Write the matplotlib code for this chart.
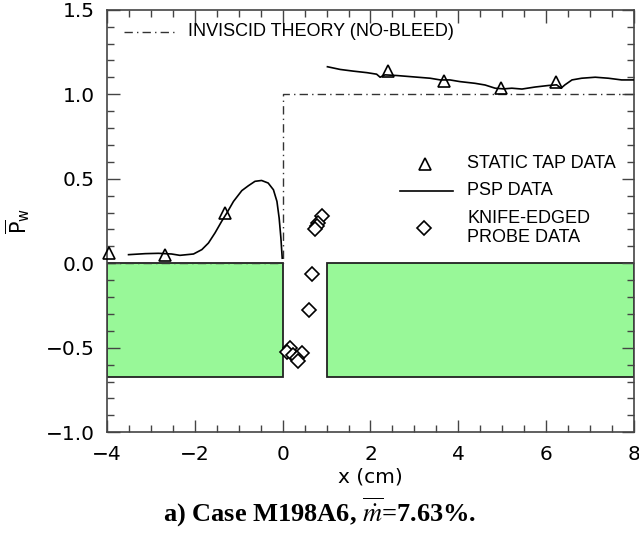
import matplotlib
matplotlib.use("Agg")
import matplotlib.pyplot as plt
from matplotlib.patches import Rectangle
from matplotlib.lines import Line2D
from matplotlib.ticker import MultipleLocator, FuncFormatter

# static taps
tap_x = [-3.95, -2.68, -1.31, 2.41, 3.68, 4.97, 6.23]
tap_p = [0.06, 0.05, 0.30, 1.138, 1.077, 1.036, 1.073]

# PSP upstream of the bleed slot
psp_up_x = [-3.51, -3.13, -2.83, -2.53, -2.34, -2.03, -1.84, -1.69, -1.54, -1.39,
            -1.27, -1.12, -0.93, -0.78, -0.63, -0.48, -0.33, -0.21, -0.13, -0.08,
            -0.04, -0.01]
psp_up_p = [0.051, 0.057, 0.059, 0.055, 0.047, 0.055, 0.081, 0.12, 0.18, 0.248,
            0.298, 0.366, 0.43, 0.459, 0.485, 0.49, 0.475, 0.435, 0.366, 0.268,
            0.15, 0.03]

# PSP downstream of the bleed slot
psp_dn_x = [1.02, 1.31, 1.61, 1.92, 2.14, 2.22, 2.33, 2.60, 2.98, 3.36, 3.59, 3.81,
            4.04, 4.38, 4.61, 4.84, 5.03, 5.22, 5.45, 5.75, 6.05, 6.24, 6.34, 6.43,
            6.59, 6.81, 7.12, 7.42, 7.72, 7.99]
psp_dn_p = [1.163, 1.147, 1.137, 1.128, 1.119, 1.101, 1.115, 1.111, 1.103, 1.095,
            1.085, 1.085, 1.075, 1.065, 1.055, 1.036, 1.032, 1.036, 1.031, 1.043,
            1.052, 1.056, 1.036, 1.056, 1.085, 1.095, 1.101, 1.095, 1.085, 1.085]

# knife-edged probe traverse inside the slot
probe_x = [0.90, 0.81, 0.78, 0.74, 0.66, 0.59, 0.17, 0.11, 0.24, 0.44, 0.32, 0.36]
probe_p = [0.282, 0.239, 0.219, 0.20, -0.061, -0.274, -0.504, -0.526, -0.54, -0.53,
           -0.563, -0.579]

# inviscid (no-bleed) theory
theory_x = [-4.0, 0.0, 0.0, 8.0]
theory_p = [0.0, 0.0, 1.0, 1.0]

# bleed slot geometry (x start, x end, depth)
wall_up = (-4.0, 0.0)
wall_dn = (1.0, 8.0)
wall_depth = -0.675

DASHDOT = (0, (6, 3, 1, 3))
LEG_FONT = dict(fontsize=13, family="Liberation Sans", va="center")

fig = plt.figure(figsize=(6.39, 5.35), dpi=100)
ax = fig.add_axes([0.1675, 0.192, 0.8245, 0.7897])

for x0, x1 in (wall_up, wall_dn):
    ax.add_patch(Rectangle((x0, wall_depth), x1 - x0, -wall_depth,
                           facecolor="#98f898", edgecolor="#222222", lw=1.3, zorder=1))

ax.plot(theory_x, theory_p, color="#333333", lw=1.0, ls=DASHDOT, zorder=2)
ax.plot(psp_up_x, psp_up_p, color="black", lw=1.2, zorder=3)
ax.plot(psp_dn_x, psp_dn_p, color="black", lw=1.2, zorder=3)
ax.plot(tap_x, tap_p, ls="none", marker="^", ms=8.5, mfc="none", mec="black", mew=1.2,
        zorder=4, clip_on=False)
ax.plot(probe_x, probe_p, ls="none", marker="D", ms=7.5, mfc="white", mec="black",
        mew=1.2, zorder=4)

ax.set_xlim(-4, 8)
ax.set_ylim(-1.0, 1.5)
ax.xaxis.set_major_locator(MultipleLocator(2))
ax.xaxis.set_minor_locator(MultipleLocator(0.5))
ax.yaxis.set_major_locator(MultipleLocator(0.5))
ax.yaxis.set_minor_locator(MultipleLocator(0.1))
ax.tick_params(which="both", direction="in", top=True, right=True, color="#444444")
ax.tick_params(which="major", length=9, width=1.0, labelsize=14.5, pad=9)
ax.tick_params(which="minor", length=5, width=1.0)
ax.xaxis.set_major_formatter(FuncFormatter(lambda v, p: f"{v:.0f}".replace("-", "\u2212")))
ax.yaxis.set_major_formatter(FuncFormatter(lambda v, p: f"{v:.1f}".replace("-", "\u2212")))
for s in ax.spines.values():
    s.set_color("#444444")
    s.set_linewidth(1.2)

ax.set_xlabel("x (cm)", fontsize=14.5, labelpad=3)
ax.set_ylabel(r"$\overline{\mathrm{P}}_{\mathrm{w}}$", fontsize=15, labelpad=10,
              math_fontfamily="dejavusans")

# legend entries drawn by hand
ax.add_line(Line2D([-3.62, -2.48], [1.37, 1.37], color="#333333", lw=1.0, ls=DASHDOT))
ax.text(-2.15, 1.37, "INVISCID THEORY (NO-BLEED)", **LEG_FONT)

ax.plot([3.25], [0.588], ls="none", marker="^", ms=8.5, mfc="none", mec="black", mew=1.2)
ax.text(4.2, 0.588, "STATIC TAP DATA", **LEG_FONT)
ax.add_line(Line2D([2.68, 3.88], [0.43, 0.43], color="black", lw=1.2))
ax.text(4.2, 0.43, "PSP DATA", **LEG_FONT)
ax.plot([3.23], [0.21], ls="none", marker="D", ms=7.5, mfc="white", mec="black", mew=1.2)
ax.text(4.2, 0.21, "KNIFE-EDGED\nPROBE DATA", linespacing=1.18, **LEG_FONT)

fig.text(0.5, 0.043, r"a) Case M198A6, $\overline{\dot{m}}$=7.63%.", ha="center",
         va="center", fontsize=19, fontweight="bold", family="Liberation Serif",
         math_fontfamily="stix")

fig.savefig("out.png", dpi=100)
